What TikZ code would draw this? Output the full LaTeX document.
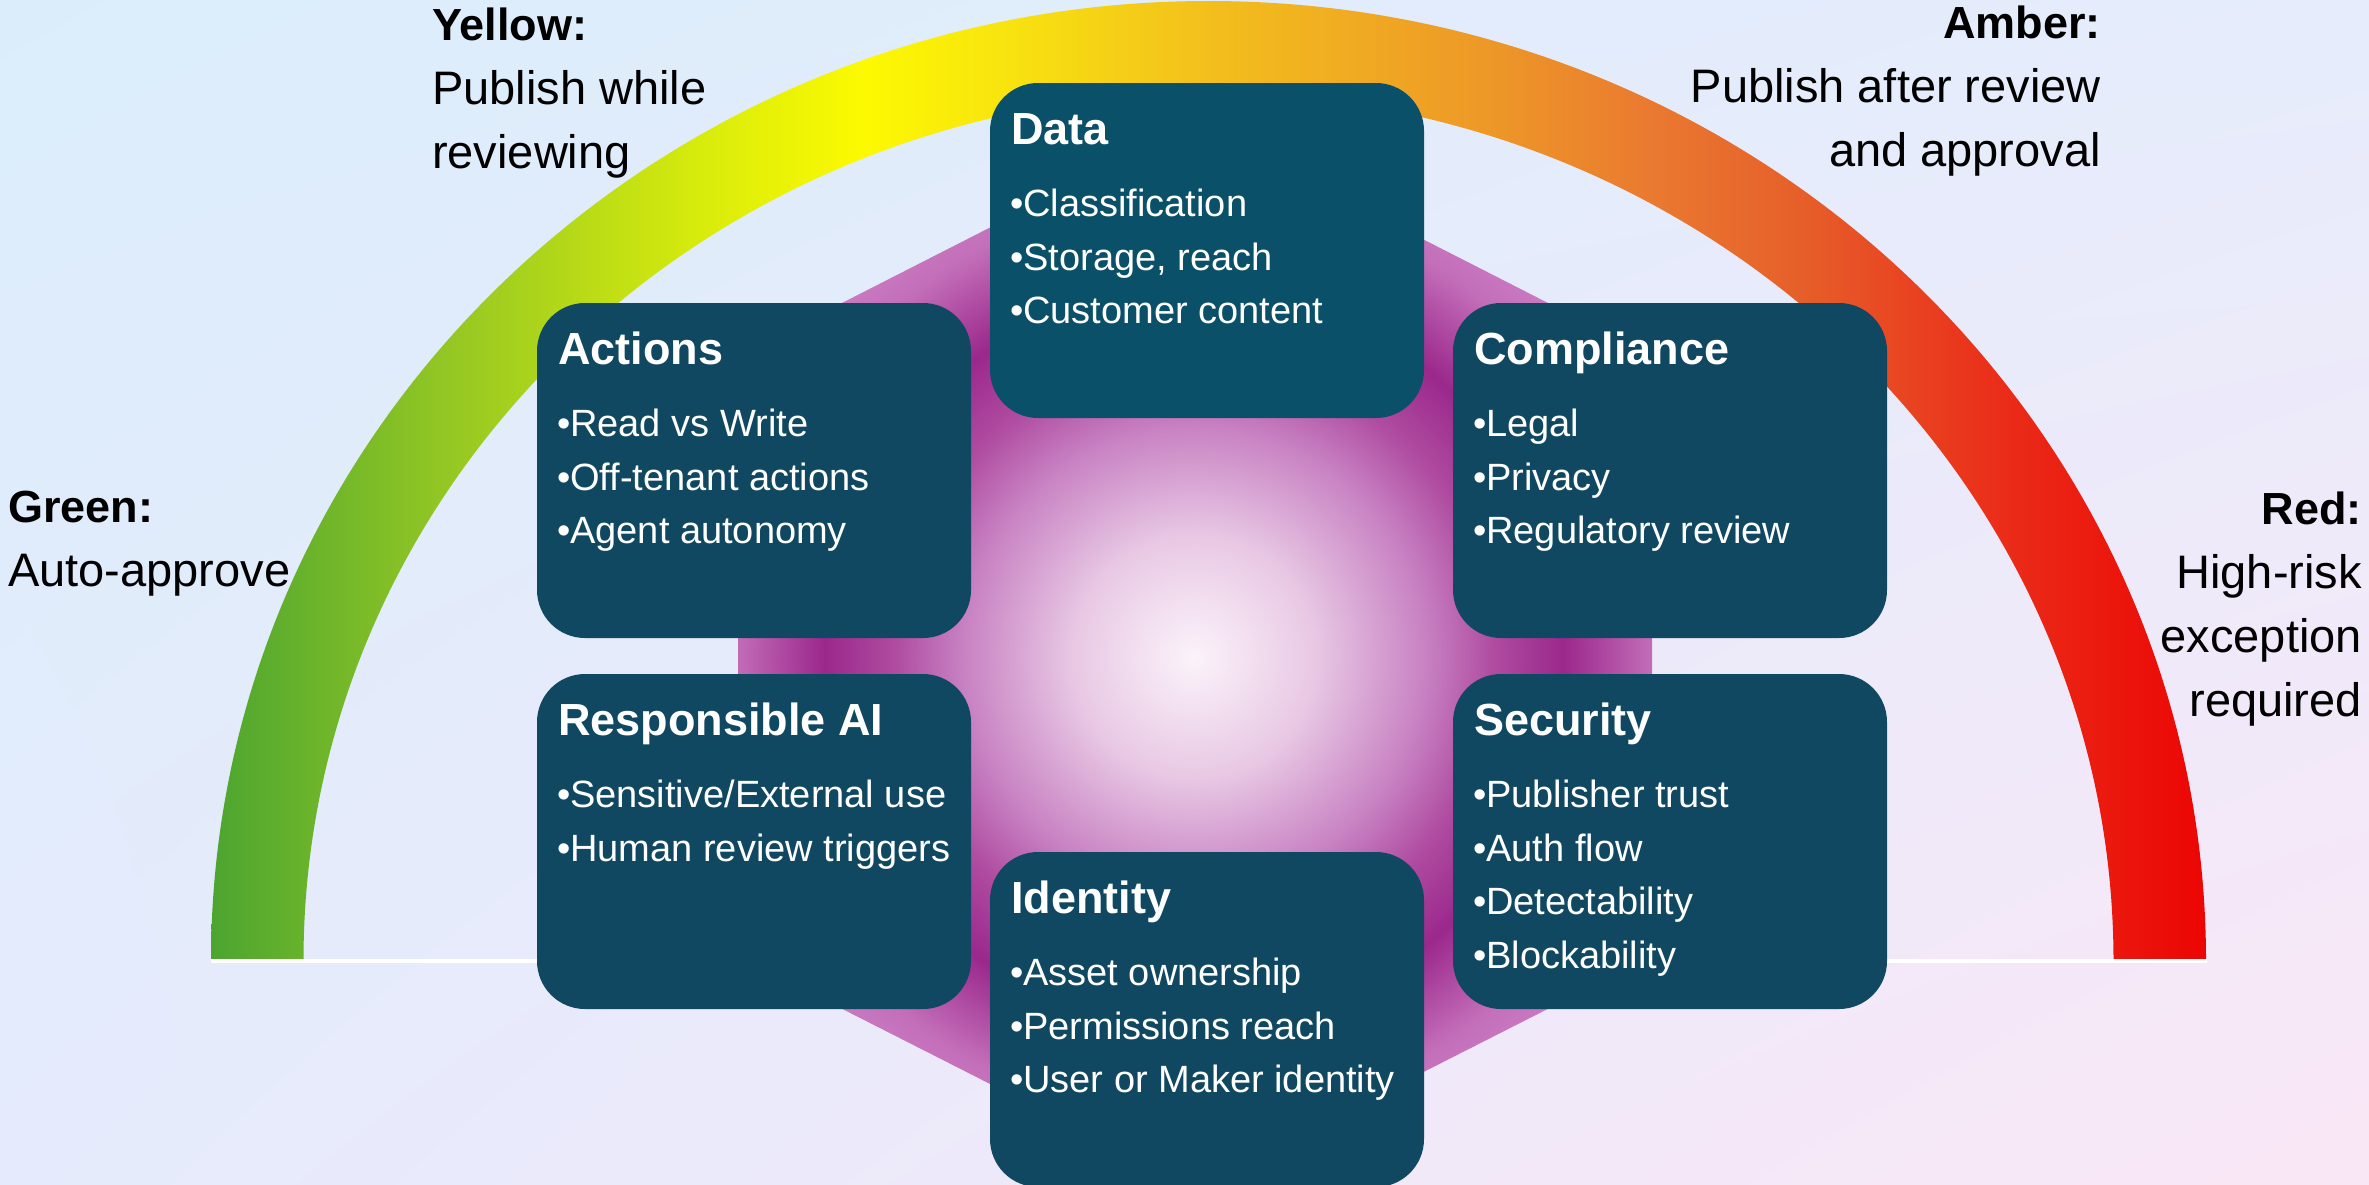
\documentclass[tikz,border=0pt]{standalone}
\usepackage{fontspec}
\setmainfont{Liberation Sans}
\usetikzlibrary{calc,positioning,shadings}

\definecolor{bgtl}{RGB}{219,237,251}
\definecolor{bgtr}{RGB}{230,236,252}
\definecolor{bgbl}{RGB}{229,235,252}
\definecolor{bgbr}{RGB}{250,231,246}
\definecolor{boxblue}{RGB}{17,72,97}
\definecolor{databox}{RGB}{11,80,105}
\definecolor{arcA}{RGB}{76,165,48}
\definecolor{arcB}{RGB}{150,200,35}
\definecolor{arcC}{RGB}{215,235,12}
\definecolor{arcD}{RGB}{252,250,0}
\definecolor{arcE}{RGB}{248,228,15}
\definecolor{arcF}{RGB}{243,192,28}
\definecolor{arcG}{RGB}{237,150,40}
\definecolor{arcH}{RGB}{234,122,48}
\definecolor{arcI}{RGB}{230,95,42}
\definecolor{arcJ}{RGB}{234,45,25}
\definecolor{arcK}{RGB}{236,5,3}
\definecolor{glowA}{RGB}{251,243,250}
\definecolor{glowB}{RGB}{232,200,228}
\definecolor{glowC}{RGB}{200,130,195}
\definecolor{glowD}{RGB}{175,75,160}
\definecolor{glowE}{RGB}{155,40,140}
\definecolor{glowF}{RGB}{195,110,185}
\definecolor{glowG}{RGB}{210,140,205}

\pgfdeclarehorizontalshading{riskarc}{100bp}{color(0bp)=(arcA); color(25bp)=(arcA);
  color(31.1bp)=(arcB); color(37.2bp)=(arcC); color(41.3bp)=(arcD); color(44.8bp)=(arcE);
  color(49.8bp)=(arcF); color(57.3bp)=(arcG); color(61bp)=(arcH); color(64.8bp)=(arcI);
  color(69.8bp)=(arcJ); color(75bp)=(arcK); color(100bp)=(arcK)}
\pgfdeclareradialshading{hexglow}{\pgfpoint{0bp}{0bp}}{color(0bp)=(glowA);
  color(5.4bp)=(glowB); color(10.3bp)=(glowC); color(13.4bp)=(glowD);
  color(16.5bp)=(glowE); color(20.5bp)=(glowF); color(25bp)=(glowG); color(50bp)=(glowG)}

\tikzset{riskbox/.style={rectangle, rounded corners=48pt, minimum width=434pt, minimum height=335pt, inner sep=0pt, fill=boxblue}}
\tikzset{box title/.style={anchor=base west, inner sep=0pt, text=white, font=\fontsize{45}{54}\selectfont\bfseries}}
\tikzset{box items/.style={anchor=north west, inner sep=0pt, text=white, align=left, font=\fontsize{38}{53.4}\selectfont}}
\tikzset{level label/.style={inner sep=0pt, text=black, font=\fontsize{47}{64}\selectfont}}
\newcommand{\levelname}[1]{{\fontsize{45}{64}\selectfont\bfseries #1}}

\begin{document}
\begin{tikzpicture}[x=1pt, y=1pt]
\useasboundingbox (0,0) rectangle (2369,-1184);
\shade[upper left=bgtl, upper right=bgtr, lower left=bgbl, lower right=bgbr] (0,0) rectangle (2369,-1184);

% risk arc, green to red
\coordinate (arc left) at (211,-961);
\coordinate (arc right) at (2207,-961);
\begin{scope}
\clip (arc left) arc[start angle=180, end angle=0, x radius=997.5, y radius=960] -- (2113.5,-961)
  arc[start angle=0, end angle=180, x radius=905, y radius=868] -- cycle;
\shade[shading=riskarc] (arc left) rectangle (2207,0);
\end{scope}
\draw[white, line width=3.4pt] (arc left) -- (arc right);

% glowing hexagon
\coordinate (glow) at (1194,-657);
\begin{scope}
\clip (1195,-123) -- (1652,-356) -- (1652,-956) -- (1195,-1188) -- (738,-956) -- (738,-356) -- cycle;
\shade[shading=hexglow] (glow) circle[radius=560];
\end{scope}

% the six review areas
\node[riskbox, fill=databox] (data) at (1207,-250.5) {};
\node[box title] (data title) at ($(data.north west)+(21,-62)$) {Data};
\node[box items] (data items) at ($(data.north west)+(20,-106.3)$) {•Classification\\•Storage, reach\\•Customer content};

\node[riskbox] (actions) at (754,-470.5) {};
\node[box title] (actions title) at ($(actions.north west)+(21,-62)$) {Actions};
\node[box items] (actions items) at ($(actions.north west)+(20,-106.3)$) {•Read vs Write\\•Off-tenant actions\\•Agent autonomy};

\node[riskbox] (compliance) at (1670,-470.5) {};
\node[box title] (compliance title) at ($(compliance.north west)+(21,-62)$) {Compliance};
\node[box items] (compliance items) at ($(compliance.north west)+(20,-106.3)$) {•Legal\\•Privacy\\•Regulatory review};

\node[riskbox] (rai) at (754,-841.5) {};
\node[box title] (rai title) at ($(rai.north west)+(21,-62)$) {Responsible AI};
\node[box items] (rai items) at ($(rai.north west)+(20,-106.3)$) {•Sensitive/External use\\•Human review triggers};

\node[riskbox] (security) at (1670,-841.5) {};
\node[box title] (security title) at ($(security.north west)+(21,-62)$) {Security};
\node[box items] (security items) at ($(security.north west)+(20,-106.3)$) {•Publisher trust\\•Auth flow\\•Detectability\\•Blockability};

\node[riskbox] (identity) at (1207,-1019.5) {};
\node[box title] (identity title) at ($(identity.north west)+(21,-62)$) {Identity};
\node[box items] (identity items) at ($(identity.north west)+(20,-106.3)$) {•Asset ownership\\•Permissions reach\\•User or Maker identity};

% levels round the arc
\node[level label, anchor=north west, align=left] (green) at (8,-491) {\levelname{Green:}\\Auto-approve};
\node[level label, anchor=north west, align=left] (yellow) at (432,-7.8) {\levelname{Yellow:}\\Publish while\\reviewing};
\node[level label, anchor=north east, align=right] (amber) at (2101,-5.8) {\levelname{Amber:}\\Publish after review\\and approval};
\node[level label, anchor=north east, align=right] (red) at (2362,-491.8) {\levelname{Red:}\\High-risk\\exception\\required};
\end{tikzpicture}
\end{document}
